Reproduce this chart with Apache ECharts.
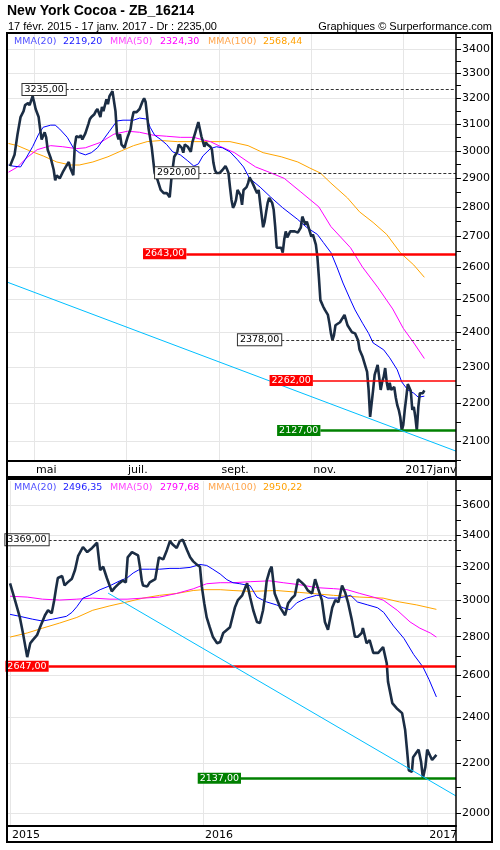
<!DOCTYPE html>
<html><head><meta charset="utf-8">
<script src="https://cdn.jsdelivr.net/npm/echarts@6/dist/echarts.min.js"></script>
<style>html,body{margin:0;padding:0;background:#fff}#c{width:500px;height:850px}</style>
</head><body><div id="c"></div>
<script>
// ---------- TOP PANEL (daily, Apr 2016 - Jan 2017) ----------
const topDates = ['2016-04-15','2016-04-16','2016-04-18','2016-04-20','2016-04-22','2016-04-24','2016-04-25','2016-04-27','2016-04-28','2016-04-30',
'2016-05-01','2016-05-02','2016-05-04','2016-05-05','2016-05-06','2016-05-08','2016-05-09','2016-05-10','2016-05-12','2016-05-14',
'2016-05-15','2016-05-16','2016-05-18','2016-05-19','2016-05-20','2016-05-22','2016-05-23','2016-05-24','2016-05-25','2016-05-27',
'2016-05-28','2016-05-29','2016-05-31','2016-06-01','2016-06-02','2016-06-04','2016-06-06','2016-06-07','2016-06-08','2016-06-10',
'2016-06-11','2016-06-12','2016-06-14','2016-06-15','2016-06-16','2016-06-18','2016-06-19','2016-06-20','2016-06-22','2016-06-23',
'2016-06-24','2016-06-25','2016-06-26','2016-06-27','2016-06-28','2016-06-30','2016-07-01','2016-07-02','2016-07-04','2016-07-05',
'2016-07-06','2016-07-08','2016-07-10','2016-07-12','2016-07-13','2016-07-14','2016-07-16','2016-07-18','2016-07-19','2016-07-20',
'2016-07-22','2016-07-24','2016-07-26','2016-07-28','2016-07-30','2016-07-31','2016-08-01','2016-08-02','2016-08-04','2016-08-05',
'2016-08-07','2016-08-08','2016-08-09','2016-08-11','2016-08-13','2016-08-14','2016-08-16','2016-08-18','2016-08-19','2016-08-20',
'2016-08-22','2016-08-23','2016-08-24','2016-08-26','2016-08-27','2016-08-28','2016-08-29','2016-08-30','2016-09-01','2016-09-03',
'2016-09-05','2016-09-06','2016-09-07','2016-09-08','2016-09-09','2016-09-10','2016-09-11','2016-09-12','2016-09-13','2016-09-14',
'2016-09-15','2016-09-16','2016-09-17','2016-09-18','2016-09-19','2016-09-20','2016-09-21','2016-09-22','2016-09-23','2016-09-25',
'2016-09-26','2016-09-27','2016-09-28','2016-09-30','2016-10-01','2016-10-02','2016-10-03','2016-10-04','2016-10-05','2016-10-06',
'2016-10-07','2016-10-08','2016-10-09','2016-10-10','2016-10-12','2016-10-13','2016-10-14','2016-10-15','2016-10-16','2016-10-18',
'2016-10-19','2016-10-21','2016-10-23','2016-10-25','2016-10-26','2016-10-27','2016-10-28','2016-10-29','2016-10-30','2016-11-01',
'2016-11-02','2016-11-03','2016-11-04','2016-11-05','2016-11-06','2016-11-07','2016-11-08','2016-11-09','2016-11-10','2016-11-12',
'2016-11-13','2016-11-14','2016-11-15','2016-11-16','2016-11-17','2016-11-20','2016-11-23','2016-11-25','2016-11-28','2016-11-30',
'2016-12-02','2016-12-03','2016-12-05','2016-12-08','2016-12-09','2016-12-10','2016-12-11','2016-12-12','2016-12-13','2016-12-15',
'2016-12-16','2016-12-17','2016-12-18','2016-12-19','2016-12-20','2016-12-21','2016-12-22','2016-12-23','2016-12-24','2016-12-26',
'2016-12-27','2016-12-28','2016-12-29','2016-12-30','2016-12-31','2017-01-01','2017-01-02','2017-01-03','2017-01-04','2017-01-05',
'2017-01-06','2017-01-07','2017-01-08','2017-01-09','2017-01-10','2017-01-11','2017-01-12','2017-01-13','2017-01-14','2017-01-15'];
const topClose = [2944,2937,2985,3062,3127,3150,3173,3181,3173,3208,
3185,3158,3127,3081,3042,3069,3050,3004,2974,2930,
2893,2911,2900,2893,2922,2941,2948,2959,2937,2911,
3019,3054,3050,3058,3042,3065,3100,3119,3127,3138,
3150,3158,3127,3166,3150,3196,3177,3208,3228,3235,
3150,3062,3042,3062,3023,3011,3031,3050,3081,3119,
3146,3146,3158,3188,3200,3185,3081,3015,2967,2919,
2893,2859,2848,2848,2834,2893,2937,2978,2996,3023,
3011,2993,3023,3015,2996,3031,3069,3108,3108,3054,
3015,3031,3023,3015,3004,2956,2930,2919,2919,2930,
2944,2933,2919,2869,2824,2797,2807,2824,2859,2866,
2841,2807,2859,2866,2869,2883,2904,2911,2883,2859,
2848,2859,2814,2731,2750,2783,2814,2831,2834,2814,
2790,2733,2663,2657,2663,2647,2690,2717,2697,2717,
2723,2717,2713,2730,2767,2767,2740,2750,2747,2700,
2707,2707,2673,2633,2568,2497,2491,2476,2467,2452,
2427,2397,2377,2391,2421,2430,2452,2421,2400,2397,
2377,2349,2329,2286,2236,2163,2163,2236,2278,2306,
2272,2236,2258,2272,2297,2258,2236,2256,2236,2244,
2216,2195,2182,2163,2127,2142,2182,2216,2252,2256,
2233,2182,2190,2163,2127,2190,2227,2222,2227,2235];

const topMA20Dates = ['2016-04-14','2016-04-17','2016-04-22','2016-04-25','2016-04-30','2016-05-04','2016-05-07','2016-05-12','2016-05-15','2016-05-18',
'2016-05-23','2016-05-27','2016-05-31','2016-06-04','2016-06-08','2016-06-12','2016-06-16','2016-06-20','2016-06-25','2016-06-29',
'2016-07-06','2016-07-10','2016-07-15','2016-07-17','2016-07-20','2016-07-24','2016-07-28','2016-08-01','2016-08-06','2016-08-11',
'2016-08-15','2016-08-18','2016-08-21','2016-08-26','2016-08-30','2016-09-03','2016-09-08','2016-09-13','2016-09-17','2016-09-21',
'2016-09-28','2016-10-05','2016-10-13','2016-10-23','2016-10-29','2016-11-05','2016-11-09','2016-11-14','2016-11-18','2016-11-22',
'2016-11-27','2016-11-30','2016-12-05','2016-12-09','2016-12-12','2016-12-19','2016-12-23','2016-12-28','2016-12-31','2017-01-04',
'2017-01-08','2017-01-11','2017-01-15'];
const topMA20 = [2948,2944,2941,2967,3015,3062,3088,3096,3096,3081,
3050,3011,2993,2985,2993,3011,3042,3073,3112,3115,
3115,3123,3119,3088,3058,3042,3023,2996,2985,2963,
2944,2952,2981,3008,3015,3011,2996,2967,2941,2900,
2869,2834,2797,2757,2730,2707,2680,2647,2600,2550,
2497,2467,2427,2397,2369,2349,2326,2292,2258,2236,
2227,2216,2219];

const topMA50Dates = ['2016-04-14','2016-04-20','2016-04-26','2016-05-03','2016-05-12','2016-05-20','2016-05-29','2016-06-04','2016-06-14','2016-06-23',
'2016-07-02','2016-07-10','2016-07-19','2016-07-28','2016-08-06','2016-08-15','2016-08-20','2016-08-26','2016-09-02','2016-09-11',
'2016-09-20','2016-09-25','2016-10-04','2016-10-14','2016-10-25','2016-11-06','2016-11-14','2016-11-27','2016-12-05','2016-12-15',
'2016-12-25','2017-01-01','2017-01-08','2017-01-15'];
const topMA50 = [2922,2941,2974,3004,3019,3015,3008,3011,3031,3062,
3073,3069,3058,3054,3050,3050,3042,3034,3015,2993,
2959,2941,2922,2900,2852,2800,2733,2663,2600,2537,
2470,2412,2369,2324];

const topMA100Dates = ['2016-04-14','2016-04-20','2016-04-28','2016-05-07','2016-05-16','2016-05-25','2016-05-31','2016-06-09','2016-06-19','2016-06-28',
'2016-07-06','2016-07-15','2016-07-24','2016-08-04','2016-08-15','2016-08-26','2016-09-08','2016-09-20','2016-09-30','2016-10-12',
'2016-10-23','2016-10-31','2016-11-07','2016-11-14','2016-11-25','2016-12-03','2016-12-12','2016-12-21','2016-12-30','2017-01-08',
'2017-01-15'];
const topMA100 = [3027,3019,3000,2981,2959,2948,2948,2959,2978,3000,
3019,3034,3038,3034,3034,3034,3034,3019,2993,2978,
2959,2937,2919,2883,2831,2783,2747,2707,2647,2607,
2568];

const topLegendValues = ['2219,20','2324,30','2568,44'];
const topMonthTicks = ['2016-05-01','2016-07-01','2016-09-01','2016-11-01','2017-01-01'];
const topMonthLabels = ['mai','juil.','sept.','nov.','2017janv'];
const topYLabels = [2100,2200,2300,2400,2500,2600,2700,2800,2900,3000,3100,3200,3300,3400];
const topYMinor = [2050,2100,2150,2200,2250,2300,2350,2400,2450,2500,2550,2600,2650,2700,2750,2800,2850,2900,2950,3000,3050,3100,3150,3200,3250,3300,3350,3400,3450];

// horizontal levels: [start date, value, label, kind]
const topLevels = [
  ['2016-05-22', 3235, '3235,00', 'dash'],
  ['2016-08-18', 2920, '2920,00', 'dash'],
  ['2016-08-10', 2643, '2643,00', 'red'],
  ['2016-10-12', 2378, '2378,00', 'dash'],
  ['2016-11-02', 2262, '2262,00', 'redthin'],
  ['2016-11-07', 2127, '2127,00', 'green']
];
const topTrend = [['2016-04-13', 2553], ['2017-02-05', 2074]];

// ---------- BOTTOM PANEL (weekly, Feb 2015 - Jan 2017) ----------
const botDates = ['2015-02-20','2015-02-28','2015-03-08','2015-03-13','2015-03-20','2015-03-25','2015-03-29','2015-04-05','2015-04-10','2015-04-18',
'2015-04-23','2015-04-29','2015-05-03','2015-05-06','2015-05-09','2015-05-16','2015-05-20','2015-05-25','2015-06-01','2015-06-06',
'2015-06-11','2015-06-19','2015-06-26','2015-07-04','2015-07-12','2015-07-17','2015-07-22','2015-07-28','2015-08-05','2015-08-10',
'2015-08-17','2015-08-23','2015-08-28','2015-08-31','2015-09-07','2015-09-10','2015-09-17','2015-09-20','2015-09-23','2015-09-25',
'2015-10-02','2015-10-06','2015-10-15','2015-10-21','2015-10-28','2015-11-03','2015-11-08','2015-11-13','2015-11-19','2015-11-24',
'2015-11-29','2015-12-06','2015-12-11','2015-12-16','2015-12-22','2015-12-27','2015-12-30','2016-01-03','2016-01-07','2016-01-12',
'2016-01-17','2016-01-24','2016-01-29','2016-02-03','2016-02-14','2016-02-22','2016-02-27','2016-03-05','2016-03-10','2016-03-13',
'2016-03-18','2016-03-23','2016-03-29','2016-04-03','2016-04-08','2016-04-11','2016-04-14','2016-04-19','2016-04-22','2016-04-27',
'2016-05-06','2016-05-14','2016-05-19','2016-05-25','2016-05-30','2016-06-04','2016-06-10','2016-06-15','2016-06-20','2016-06-27',
'2016-07-02','2016-07-07','2016-07-13','2016-07-18','2016-07-23','2016-07-30','2016-08-04','2016-08-09','2016-08-15','2016-08-20',
'2016-08-25','2016-08-31','2016-09-05','2016-09-10','2016-09-16','2016-09-18','2016-09-24','2016-09-29','2016-10-05','2016-10-13',
'2016-10-21','2016-10-24','2016-10-27','2016-10-29','2016-11-05','2016-11-12','2016-11-21','2016-11-26','2016-11-29','2016-12-02',
'2016-12-07','2016-12-09','2016-12-15','2016-12-18','2016-12-22','2016-12-25','2016-12-29','2017-01-01','2017-01-09','2017-01-16'];
const botClose = [3100,3003,2905,2820,2693,2765,2782,2808,2851,2917,
2945,2928,3000,3068,3132,3144,3088,3106,3128,3180,
3265,3323,3291,3317,3350,3180,3200,3132,3053,3075,
3100,3117,3106,3258,3291,3303,3270,3200,3117,3088,
3082,3106,3125,3258,3245,3303,3360,3337,3317,3360,
3369,3303,3258,3233,3213,3200,3082,2985,2905,2851,
2800,2765,2772,2820,2851,2960,3003,3030,3075,3100,
3018,2945,2880,2874,2945,3018,3117,3180,3200,3041,
2960,2917,2985,3013,3030,3125,3106,3088,3059,3041,
3125,3068,3003,2880,2838,2960,3003,2990,3088,3047,
2985,2890,2800,2800,2820,2846,2765,2782,2715,2715,
2745,2745,2660,2570,2467,2443,2420,2343,2257,2170,
2163,2225,2247,2257,2205,2137,2184,2257,2213,2235];

const botMA20Dates = ['2015-02-20','2015-03-08','2015-03-29','2015-04-14','2015-04-30','2015-05-23','2015-06-01','2015-06-09','2015-06-19','2015-06-30',
'2015-07-17','2015-08-02','2015-08-18','2015-08-30','2015-09-09','2015-09-20','2015-10-06','2015-10-22','2015-11-08','2015-11-24',
'2015-12-11','2015-12-27','2016-01-07','2016-01-17','2016-01-29','2016-02-09','2016-02-19','2016-03-01','2016-03-18','2016-03-29',
'2016-04-14','2016-04-30','2016-05-11','2016-05-22','2016-06-02','2016-06-18','2016-07-04','2016-07-13','2016-07-23','2016-08-07',
'2016-08-17','2016-08-29','2016-09-09','2016-09-26','2016-10-12','2016-10-22','2016-11-07','2016-11-24','2016-12-10','2016-12-25',
'2017-01-04','2017-01-16'];
const botMA20 = [2922,2911,2895,2885,2895,2911,2933,2965,3014,3030,
3063,3086,3115,3132,3162,3185,3185,3185,3190,3190,
3196,3214,3208,3185,3156,3122,3104,3098,3086,3020,
2992,2975,2959,2948,2987,3014,3030,3030,3014,3014,
3020,3030,2992,2975,2959,2933,2858,2791,2706,2643,
2580,2496];

const botMA50Dates = ['2015-02-20','2015-03-20','2015-04-14','2015-05-12','2015-06-09','2015-07-05','2015-08-02','2015-08-30','2015-09-25','2015-10-22',
'2015-11-19','2015-12-16','2016-01-07','2016-01-29','2016-02-19','2016-03-18','2016-04-19','2016-05-11','2016-06-07','2016-07-04',
'2016-08-01','2016-08-23','2016-09-13','2016-10-05','2016-10-21','2016-11-13','2016-12-04','2016-12-20','2017-01-06','2017-01-16'];
const botMA50 = [3025,3020,3008,3003,3008,3014,3008,3008,3014,3020,
3041,3068,3098,3104,3104,3110,3115,3104,3092,3075,
3069,3063,3041,3020,3003,2945,2880,2846,2820,2798];

const botMA100Dates = ['2015-02-20','2015-03-20','2015-04-14','2015-05-12','2015-06-09','2015-07-05','2015-08-02','2015-08-30','2015-09-25','2015-10-22',
'2015-11-19','2015-12-16','2016-01-01','2016-01-29','2016-02-19','2016-03-18','2016-04-30','2016-06-07','2016-08-01','2016-09-13',
'2016-10-21','2016-11-17','2016-12-15','2017-01-16'];
const botMA100 = [2798,2820,2846,2874,2905,2945,2970,2992,3014,3030,
3041,3058,3063,3063,3058,3053,3058,3047,3030,3020,
3014,2992,2975,2950];

const botLegendValues = ['2496,35','2797,68','2950,22'];
const botYearTicks = ['2015-02-20','2016-01-01','2017-01-01'];
const botYearLabels = ['2015','2016','2017'];
const botYLabels = [2000,2200,2400,2600,2800,3000,3200,3400,3600];
const botYMinor = [2000,2100,2200,2300,2400,2500,2600,2700,2800,2900,3000,3100,3200,3300,3400,3500,3600,3700];
const botLevels = [
  ['2015-04-24', 3369, '3369,00', 'dash'],
  ['2015-04-24', 2647, '2647,00', 'red'],
  ['2016-03-03', 2137, '2137,00', 'green']
];
const botTrend = [['2015-07-30', 3043], ['2017-02-17', 2066]];

// ---------- helpers ----------
const F = 'DejaVu Sans';
const AF = 'Liberation Sans';
const ts = s => new Date(s + 'T00:00:00').getTime();
const zip = (d, v) => d.map((x, i) => [ts(x), v[i]]);
function pickLabel(dates, labels) {
  return function (v) {
    let best = 0, bd = Infinity;
    dates.forEach((d, i) => { const dd = Math.abs(ts(d) - v); if (dd < bd) { bd = dd; best = i; } });
    return labels[best];
  };
}
const styles = {
  dash: { line: { color: '#333', width: 1, type: [3, 2] }, label: { backgroundColor: '#fff', borderColor: '#333', borderWidth: 1, color: '#000' } },
  red: { line: { color: '#ff0000', width: 2.5, type: 'solid' }, label: { backgroundColor: '#ff0000', color: '#fff' } },
  redthin: { line: { color: '#ff0000', width: 1.5, type: 'solid' }, label: { backgroundColor: '#ff0000', color: '#fff' } },
  green: { line: { color: '#008000', width: 2.5, type: 'solid' }, label: { backgroundColor: '#008000', color: '#fff' } }
};
function levelLines(levels, endDate) {
  return levels.map(l => {
    const s = styles[l[3]];
    return [{
      coord: [ts(l[0]), l[1]],
      lineStyle: s.line,
      label: Object.assign({ show: true, position: 'start', distance: 0, formatter: l[2], fontFamily: F, fontSize: 9.5, padding: [1, 2, 0, 2] }, s.label)
    }, { coord: [ts(endDate), l[1]] }];
  });
}
function trendLine(t) {
  return [{ coord: [ts(t[0][0]), t[0][1]], lineStyle: { color: '#00bfff', width: 1, type: 'solid' }, label: { show: false } },
          { coord: [ts(t[1][0]), t[1][1]] }];
}
function legendTitle(vals, top) {
  const fs = 9.5;
  return {
    text: '{a|MMA(20)}{b|' + vals[0] + '}{c|MMA(50)}{d|' + vals[1] + '}{e|MMA(100)}{f|' + vals[2] + '}',
    left: 14, top: top, padding: 0,
    textStyle: {
      fontFamily: F, fontSize: fs, fontWeight: 'normal',
      rich: {
        a: { color: '#5050ff', width: 49, fontFamily: F, fontSize: fs },
        b: { color: '#1a1aff', width: 47, fontFamily: F, fontSize: fs },
        c: { color: '#ff44ff', width: 50, fontFamily: F, fontSize: fs },
        d: { color: '#ff00ff', width: 48, fontFamily: F, fontSize: fs },
        e: { color: '#ffa64d', width: 55, fontFamily: F, fontSize: fs },
        f: { color: '#ffa000', fontFamily: F, fontSize: fs }
      }
    }
  };
}
function xAxisCfg(grid, min, max, ticks, labels) {
  const tv = ticks.map(ts);
  return {
    gridIndex: grid, type: 'value', min: ts(min), max: ts(max), scale: true,
    axisLine: { show: true, onZero: false, lineStyle: { color: '#000', width: 2 } },
    axisTick: { show: false, customValues: tv },
    axisLabel: { customValues: tv, formatter: pickLabel(ticks, labels), align: 'left', padding: [0, 0, 0, 2], margin: 4, fontFamily: F, fontSize: 11, color: '#000' },
    splitLine: { show: true, lineStyle: { color: '#e6e6e6', width: 1 } }
  };
}
function yAxisCfg(grid, min, max, labels) {
  return {
    gridIndex: grid, type: 'log', position: 'right', min: min, max: max,
    axisLine: { show: false },
    axisTick: { show: true, inside: false, length: 5, lineStyle: { color: '#000' }, customValues: labels },
    axisLabel: { customValues: labels, margin: 6, formatter: v => String(Math.round(v)), fontFamily: F, fontSize: 11, color: '#000' },
    splitLine: { show: true, lineStyle: { color: '#e6e6e6', width: 1 } }
  };
}
function yMinorCfg(grid, min, max, ticks) {
  return {
    gridIndex: grid, type: 'log', position: 'right', min: min, max: max,
    axisLine: { show: false },
    axisTick: { show: true, inside: false, length: 5, lineStyle: { color: '#000' }, customValues: ticks },
    axisLabel: { show: false },
    splitLine: { show: false }
  };
}
const closeStyle = { color: '#1b2d44', width: 2.6 };
function lineSeries(xi, yi, data, color, width, z, extra) {
  return Object.assign({ type: 'line', xAxisIndex: xi, yAxisIndex: yi, data: data, showSymbol: false, symbol: 'none', silent: true,
    lineStyle: { color: color, width: width }, z: z }, extra || {});
}

const TOP_MIN = '2016-04-13', TOP_MAX = '2017-02-05';
const BOT_MIN = '2015-02-15', BOT_MAX = '2017-02-17';

const chart = echarts.init(document.getElementById('c'), null, { renderer: 'canvas' });
chart.setOption({
  animation: false,
  backgroundColor: '#fff',
  title: [
    { text: 'New York Cocoa - ZB_16214', left: 7, top: 4, padding: 0, textStyle: { fontFamily: AF, fontSize: 14, fontWeight: 'bold', color: '#000' } },
    { text: '17 févr. 2015 - 17 janv. 2017 - Dr : 2235,00', left: 8, top: 21, padding: 0, textStyle: { fontFamily: AF, fontSize: 11, fontWeight: 'normal', color: '#000' } },
    { text: 'Graphiques © Surperformance.com', right: 8, top: 21, padding: 0, textStyle: { fontFamily: AF, fontSize: 11, fontWeight: 'normal', color: '#000' } },
    legendTitle(topLegendValues, 37),
    legendTitle(botLegendValues, 483)
  ],
  grid: [
    { left: 7, right: 44, top: 34, height: 427 },
    { left: 7, right: 44, top: 481, height: 345 }
  ],
  xAxis: [
    xAxisCfg(0, TOP_MIN, TOP_MAX, topMonthTicks, topMonthLabels),
    xAxisCfg(1, BOT_MIN, BOT_MAX, botYearTicks, botYearLabels)
  ],
  yAxis: [
    yAxisCfg(0, 2049, 3463, topYLabels),
    yMinorCfg(0, 2049, 3463, topYMinor),
    yAxisCfg(1, 1951, 3769, botYLabels),
    yMinorCfg(1, 1951, 3769, botYMinor)
  ],
  series: [
    lineSeries(0, 0, zip(topMA100Dates, topMA100), '#ffa500', 1, 3),
    lineSeries(0, 0, zip(topMA50Dates, topMA50), '#ff00ff', 1, 3),
    lineSeries(0, 0, zip(topMA20Dates, topMA20), '#0000ff', 1, 3),
    lineSeries(0, 0, zip(topDates, topClose), closeStyle.color, closeStyle.width, 5, {
      markLine: { silent: true, symbol: ['none', 'none'], animation: false, z: 6,
        data: levelLines(topLevels, TOP_MAX).concat([trendLine(topTrend)]) }
    }),
    lineSeries(1, 2, zip(botMA100Dates, botMA100), '#ffa500', 1, 3),
    lineSeries(1, 2, zip(botMA50Dates, botMA50), '#ff00ff', 1, 3),
    lineSeries(1, 2, zip(botMA20Dates, botMA20), '#0000ff', 1, 3),
    lineSeries(1, 2, zip(botDates, botClose), closeStyle.color, closeStyle.width, 5, {
      markLine: { silent: true, symbol: ['none', 'none'], animation: false, z: 6,
        data: levelLines(botLevels, BOT_MAX).concat([trendLine(botTrend)]) }
    })
  ],
  graphic: [
    { type: 'rect', silent: true, z: 100, shape: { x: 7, y: 33, width: 485, height: 444 }, style: { fill: null, stroke: '#000', lineWidth: 2 } },
    { type: 'rect', silent: true, z: 100, shape: { x: 7, y: 479, width: 485, height: 363 }, style: { fill: null, stroke: '#000', lineWidth: 2 } },
    { type: 'line', silent: true, z: 100, shape: { x1: 456, y1: 33, x2: 456, y2: 477 }, style: { stroke: '#000', lineWidth: 1.5 } },
    { type: 'line', silent: true, z: 100, shape: { x1: 456, y1: 479, x2: 456, y2: 842 }, style: { stroke: '#000', lineWidth: 1.5 } }
  ]
});
</script>
</body></html>
